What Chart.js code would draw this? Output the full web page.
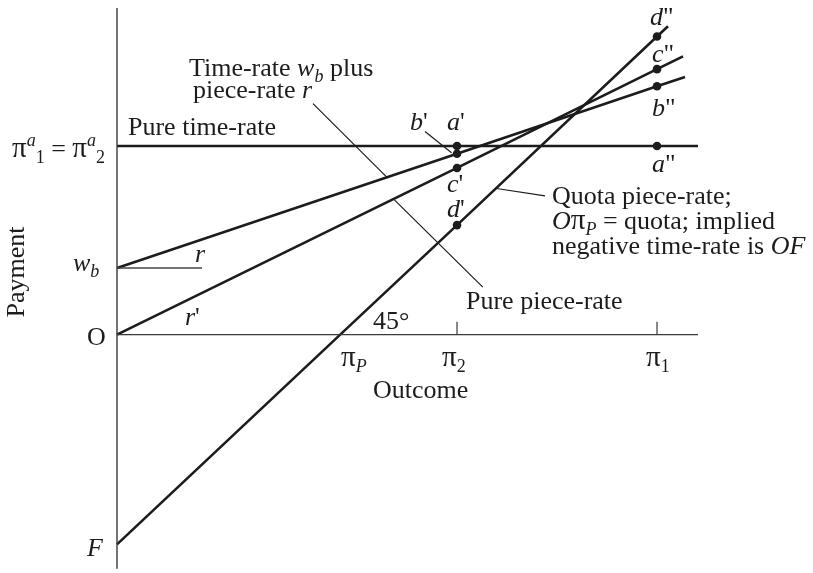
<!DOCTYPE html>
<html><head><meta charset="utf-8">
<script src="https://cdn.jsdelivr.net/npm/chart.js@4/dist/chart.umd.min.js"></script>
<style>html,body{margin:0;padding:0;background:#fff}canvas{display:block}</style>
</head><body>
<canvas id="c" width="813" height="573"></canvas>
<script>
// ---- data (abstract units: outcome on x, payment on y) ----
const outcomeAxis = [[0, 0], [29.05, 0]];
const paymentAxis = [[0, -11.75], [0, 16.4]];
const outcomeTicks = [17, 27];               // pi_2, pi_1
const tickHeight = 0.65;
const pureTimeRate = [[0, 9.47], [29.05, 9.47]];
const basePlusPiece = [[0, 3.35], [17, 9.08], [27, 12.47], [28.4, 12.94]];
const purePieceRate = [[0, 0], [17, 8.37], [27, 13.33], [28.3, 13.97]];
const quotaPieceRate = [[0, -10.53], [11.2, 0.04], [17, 5.5], [27, 14.97], [27.55, 15.48]];
const wbMarker = [[0, 3.35], [4.25, 3.35]];
const pointsAtPi2 = [9.47, 9.08, 8.37, 5.5];   // a', b', c', d'
const pointsAtPi1 = [9.47, 12.47, 13.33, 14.97]; // a'', b'', c'', d''
const leaders = [
  [[9.8, 11.6], [13.5, 7.9]],
  [[15.4, 10.2], [16.73, 9.13]],
  [[13.87, 6.77], [18.29, 2.39]],
  [[18.9, 7.35], [21.4, 6.97]]
];

const toXY = arr => arr.map(p => ({x: p[0], y: p[1]}));
const INK = '#1c1c1c';
const AX = '#3a3a3a';

function lineDs(arr, w, col) {
  return {data: toXY(arr), showLine: true, borderColor: col || INK, borderWidth: w,
          pointRadius: 0, fill: false, clip: false, tension: 0};
}

const datasets = [
  lineDs(paymentAxis, 1.4, AX),
  lineDs(outcomeAxis, 1.4, AX),
  ...outcomeTicks.map(t => lineDs([[t, 0], [t, tickHeight]], 1.2, AX)),
  lineDs(wbMarker, 1.4, '#444'),
  lineDs(pureTimeRate, 2.6),
  lineDs(basePlusPiece, 2.6),
  lineDs(purePieceRate, 2.6),
  lineDs(quotaPieceRate, 2.6),
  ...leaders.map(l => lineDs(l, 1.2)),
  {data: [...pointsAtPi2.map(y => ({x: outcomeTicks[0], y})), ...pointsAtPi1.map(y => ({x: outcomeTicks[1], y}))],
   showLine: false, pointRadius: 4.3, pointBackgroundColor: INK, pointBorderWidth: 0, clip: false}
];

// ---- text labels (anchor in data units, rich segments) ----
const FONT = '"Liberation Serif", "Times New Roman", serif';
const S = 26, s = 18, P = 29;
const labels = [
  {x: -0.6, y: 8.9, align: 'right', parts: [['π', 'pi'], ['a', 'isup'], ['1', 'sub'], [' = '], ['π', 'pi'], ['a', 'isup'], ['2', 'sub']]},
  {x: 0.55, y: 10.0, parts: [['Pure time-rate']]},
  {x: 3.6, y: 13.0, parts: [['Time-rate '], ['w', 'i'], ['b', 'isub'], [' plus']]},
  {x: 3.8, y: 11.9, parts: [['piece-rate '], ['r', 'i']]},
  {x: 14.65, y: 10.25, parts: [['b', 'i'], ["'"]]},
  {x: 16.5, y: 10.25, parts: [['a', 'i'], ["'"]]},
  {x: 16.5, y: 7.15, parts: [['c', 'i'], ["'"]]},
  {x: 16.5, y: 5.9, parts: [['d', 'i'], ["'"]]},
  {x: 26.65, y: 15.55, parts: [['d', 'i'], ['"']]},
  {x: 26.75, y: 13.7, parts: [['c', 'i'], ['"']]},
  {x: 26.75, y: 11.0, parts: [['b', 'i'], ['"']]},
  {x: 26.75, y: 8.15, parts: [['a', 'i'], ['"']]},
  {x: 21.75, y: 6.55, parts: [['Quota piece-rate;']]},
  {x: 21.75, y: 5.3, parts: [['O', 'i'], ['π', 'pi'], ['P', 'isub'], [' = quota; implied']]},
  {x: 21.75, y: 4.05, parts: [['negative time-rate is '], ['OF', 'i']]},
  {x: 17.45, y: 1.3, parts: [['Pure piece-rate']]},
  {x: 12.8, y: 0.3, parts: [['45°']]},
  {x: 11.2, y: -1.55, parts: [['π', 'pi'], ['P', 'isub']]},
  {x: 16.25, y: -1.55, parts: [['π', 'pi'], ['2', 'sub']]},
  {x: 26.45, y: -1.55, parts: [['π', 'pi'], ['1', 'sub']]},
  {x: 12.8, y: -3.2, parts: [['Outcome']]},
  {x: -2.2, y: 3.2, parts: [['w', 'i'], ['b', 'isub']]},
  {x: -1.5, y: -0.5, parts: [['O']]},
  {x: 3.9, y: 3.65, parts: [['r', 'i']]},
  {x: 3.4, y: 0.5, parts: [['r', 'i'], ["'"]]},
  {x: -1.5, y: -11.1, parts: [['F', 'i']]},
  {x: -5.05, y: 3.15, rotate: true, align: 'center', parts: [['Payment']]}
];

function segFont(st) {
  if (st === 'pi') return P + 'px ' + FONT;
  const it = st && st.indexOf('i') === 0;
  const small = st && (st.endsWith('sub') || st.endsWith('sup'));
  return (it ? 'italic ' : '') + (small ? s : S) + 'px ' + FONT;
}
function segDy(st) {
  if (!st) return 0;
  if (st.endsWith('sub')) return 6;
  if (st.endsWith('sup')) return -11;
  return 0;
}

const textPlugin = {
  id: 'texts',
  afterDatasetsDraw(chart) {
    const ctx = chart.ctx, xs = chart.scales.x, ys = chart.scales.y;
    ctx.save();
    ctx.fillStyle = INK;
    ctx.textBaseline = 'alphabetic';
    ctx.textAlign = 'left';
    labels.forEach(l => {
      const px = xs.getPixelForValue(l.x), py = ys.getPixelForValue(l.y);
      let w = 0;
      l.parts.forEach(p => { ctx.font = segFont(p[1]); w += ctx.measureText(p[0]).width; });
      ctx.save();
      ctx.translate(px, py);
      if (l.rotate) ctx.rotate(-Math.PI / 2);
      let x0 = 0;
      if (l.align === 'right') x0 = -w;
      else if (l.align === 'center') x0 = -w / 2;
      if (l.rotate) ctx.translate(0, 8);
      l.parts.forEach(p => {
        ctx.font = segFont(p[1]);
        ctx.fillText(p[0], x0, segDy(p[1]));
        x0 += ctx.measureText(p[0]).width;
      });
      ctx.restore();
    });
    ctx.restore();
  }
};

new Chart(document.getElementById('c'), {
  type: 'scatter',
  data: {datasets},
  options: {
    responsive: false,
    animation: false,
    devicePixelRatio: 1,
    layout: {padding: {left: 117, right: 96, top: 8, bottom: 2}},
    plugins: {legend: {display: false}, tooltip: {enabled: false}},
    scales: {
      x: {type: 'linear', display: false, min: 0, max: 30},
      y: {type: 'linear', display: false, min: paymentAxis[0][1], max: paymentAxis[1][1]}
    }
  },
  plugins: [textPlugin]
});
</script>
</body></html>
